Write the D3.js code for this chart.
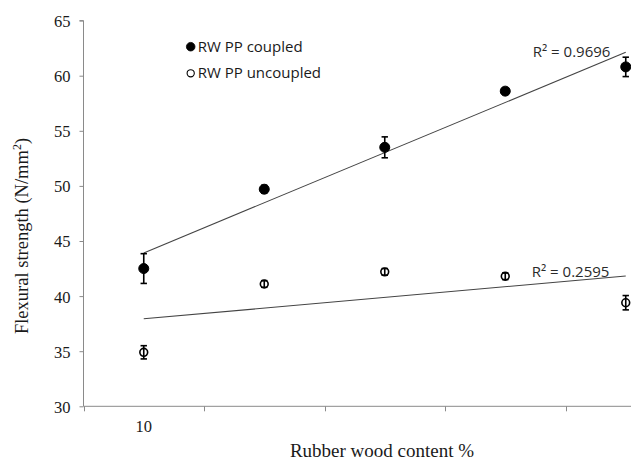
<!DOCTYPE html>
<html>
<head>
<meta charset="utf-8">
<script src="https://cdn.jsdelivr.net/npm/d3@7"></script>
<style>
  html, body { margin: 0; padding: 0; background: #fff; }
  svg { display: block; }
</style>
</head>
<body>
<svg id="chart" width="631" height="461"></svg>
<script>
// Rubber wood content categories (only the first one carries a printed label)
const categories = ["10", "20", "30", "40", "50"];
const xTickLabels = ["10", "", "", "", ""];
const yTicks = [30, 35, 40, 45, 50, 55, 60, 65];

// Flexural strength means and standard deviations (N/mm²)
const coupled = [42.5, 49.7, 53.5, 58.6, 60.8];
const coupledErr = [1.35, 0.35, 0.95, 0.3, 0.88];
const uncoupled = [34.9, 41.1, 42.2, 41.8, 39.4];
const uncoupledErr = [0.6, 0.3, 0.3, 0.3, 0.65];

const seriesNames = ["RW PP coupled", "RW PP uncoupled"];
const rSquared = ["R\u00b2 = 0.9696", "R\u00b2 = 0.2595"];

const svg = d3.select("#chart");
const axisColor = "#8a8a8a";
const serif = "'Liberation Serif', 'Times New Roman', serif";
const sans = "'Open Sans', 'Noto Sans', sans-serif";

// The band axis runs past the right edge of the figure; the last category sits near the border.
const x = d3.scaleBand().domain(categories).range([83.5, 686]).paddingInner(0).paddingOuter(0);
const cx = c => x(c) + x.bandwidth() / 2;
const y = d3.scaleLinear().domain([30, 65]).range([406.3, 20.6]);

// Y axis
const yAxis = svg.append("g")
  .attr("transform", "translate(83.5,0)")
  .call(d3.axisLeft(y).tickValues(yTicks).tickSize(4).tickPadding(9).tickFormat(d3.format("d")));
yAxis.select(".domain").attr("stroke", axisColor).attr("d", `M-4,${y(65)}H0V${y(30)}`);
yAxis.selectAll(".tick line").attr("stroke", axisColor);
yAxis.selectAll(".tick text")
  .attr("font-family", serif).attr("font-size", 16.5).attr("fill", "#1a1a1a").attr("dy", "0.36em");

// X axis: ticks sit on the band boundaries, labels under the band centres
const xAxis = svg.append("g").attr("transform", `translate(0,${y(30)})`);
xAxis.append("line")
  .attr("x1", 83.5).attr("x2", 631).attr("y1", 0).attr("y2", 0)
  .attr("stroke", axisColor);
xAxis.selectAll("line.tick")
  .data(categories)
  .join("line")
  .attr("class", "tick")
  .attr("x1", d => Math.round(x(d)) + 0.5).attr("x2", d => Math.round(x(d)) + 0.5)
  .attr("y1", 0).attr("y2", 5)
  .attr("stroke", axisColor);
xAxis.selectAll("text")
  .data(categories)
  .join("text")
  .attr("x", d => cx(d))
  .attr("y", 26)
  .attr("text-anchor", "middle")
  .attr("font-family", serif).attr("font-size", 16.5).attr("fill", "#1a1a1a")
  .text((d, i) => xTickLabels[i]);

// Axis titles
svg.append("text")
  .attr("x", 382).attr("y", 457)
  .attr("text-anchor", "middle")
  .attr("font-family", serif).attr("font-size", 19).attr("fill", "#1a1a1a")
  .text("Rubber wood content %");

const yTitle = svg.append("text")
  .attr("transform", "translate(28,236) rotate(-90)")
  .attr("text-anchor", "middle")
  .attr("font-family", serif).attr("font-size", 18.5).attr("fill", "#1a1a1a");
yTitle.append("tspan").text("Flexural strength (N/mm");
yTitle.append("tspan").attr("font-size", 12).attr("dy", "-0.6em").text("2");
yTitle.append("tspan").attr("dy", "0.4em").text(")");

// Least-squares trend line over category index 1..n
function fit(vals) {
  const n = vals.length;
  const xs = vals.map((_, i) => i + 1);
  const mx = d3.mean(xs), my = d3.mean(vals);
  const slope = d3.sum(xs, (xi, i) => (xi - mx) * (vals[i] - my)) / d3.sum(xs, xi => (xi - mx) ** 2);
  const icpt = my - slope * mx;
  return [icpt + slope * 1, icpt + slope * n];
}

const series = [
  { name: seriesNames[0], vals: coupled, err: coupledErr, filled: true, r2: rSquared[0], r2dx: -93, r2dy: 5 },
  { name: seriesNames[1], vals: uncoupled, err: uncoupledErr, filled: false, r2: rSquared[1], r2dx: -94, r2dy: 0.5 }
];

series.forEach(s => {
  const [y0, y1] = fit(s.vals);
  const xa = cx(categories[0]), xb = cx(categories[categories.length - 1]);
  svg.append("line")
    .attr("x1", xa).attr("y1", y(y0)).attr("x2", xb).attr("y2", y(y1))
    .attr("stroke", "#444").attr("stroke-width", 1.1);
  svg.append("text")
    .attr("x", xb + s.r2dx).attr("y", y(y1) + s.r2dy)
    .attr("font-family", sans).attr("font-size", 15).attr("fill", "#2a2a2a")
    .text(s.r2);
});

series.forEach(s => {
  const g = svg.append("g");
  const pts = s.vals.map((v, i) => ({ c: categories[i], v, e: s.err[i] }));
  // markers
  g.selectAll("circle")
    .data(pts)
    .join("circle")
    .attr("cx", d => cx(d.c)).attr("cy", d => y(d.v))
    .attr("r", s.filled ? 5 : 3.9)
    .attr("fill", s.filled ? "#000" : "#fff")
    .attr("stroke", "#000").attr("stroke-width", s.filled ? 1 : 1.6);
  // error bars
  const eb = g.selectAll("g.eb").data(pts).join("g").attr("class", "eb")
    .attr("stroke", "#000").attr("stroke-width", 1.6);
  eb.append("line")
    .attr("x1", d => cx(d.c)).attr("x2", d => cx(d.c))
    .attr("y1", d => y(d.v + d.e)).attr("y2", d => y(d.v - d.e));
  eb.append("line")
    .attr("x1", d => cx(d.c) - 3.2).attr("x2", d => cx(d.c) + 3.2)
    .attr("y1", d => y(d.v + d.e)).attr("y2", d => y(d.v + d.e));
  eb.append("line")
    .attr("x1", d => cx(d.c) - 3.2).attr("x2", d => cx(d.c) + 3.2)
    .attr("y1", d => y(d.v - d.e)).attr("y2", d => y(d.v - d.e));
});

// Legend
const legend = svg.append("g").attr("transform", "translate(190.7,46.7)");
series.forEach((s, i) => {
  const row = legend.append("g").attr("transform", `translate(0,${i * 26.6})`);
  row.append("circle")
    .attr("r", s.filled ? 4.3 : 3.6)
    .attr("fill", s.filled ? "#000" : "#fff")
    .attr("stroke", "#000").attr("stroke-width", s.filled ? 0.8 : 1.1);
  row.append("text")
    .attr("x", 7).attr("y", 5)
    .attr("font-family", sans).attr("font-size", 15).attr("fill", "#1a1a1a")
    .text(s.name);
});
</script>
</body>
</html>
